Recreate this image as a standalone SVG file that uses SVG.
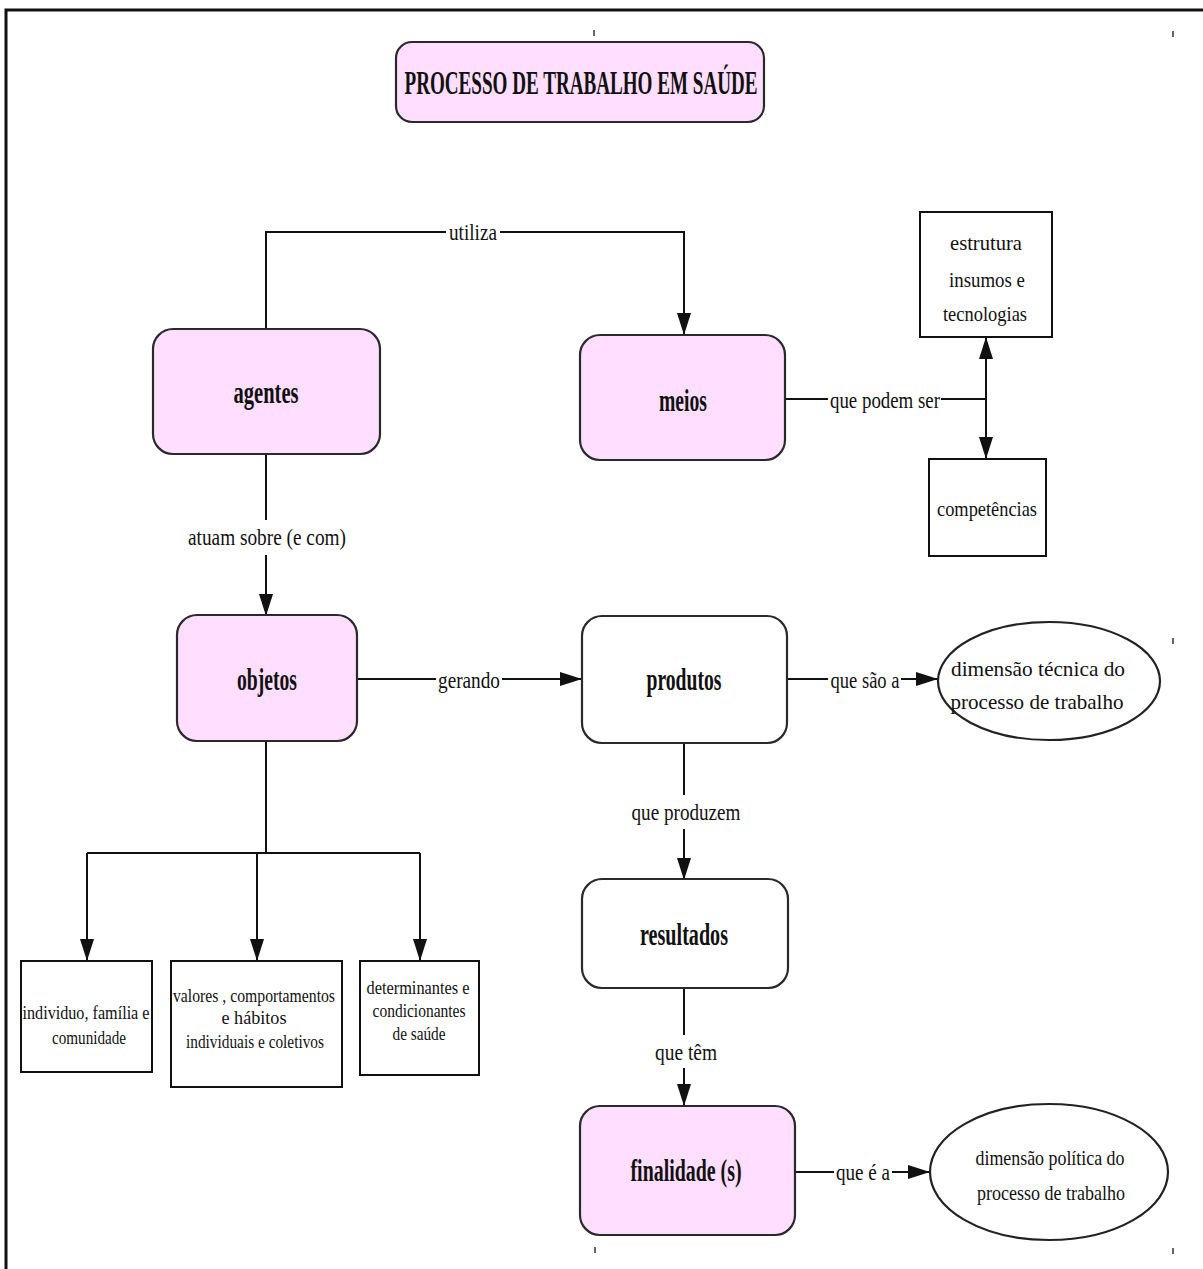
<svg xmlns="http://www.w3.org/2000/svg" width="1203" height="1269" viewBox="0 0 1203 1269">
<style>
.pink{fill:#ffdeff;stroke:#2a2a2a;stroke-width:2.2}
.white{fill:#ffffff;stroke:#2a2a2a;stroke-width:2.2}
.box{fill:#ffffff;stroke:#111;stroke-width:2}
.ell{fill:#ffffff;stroke:#222;stroke-width:2.2}
.line{fill:none;stroke:#111;stroke-width:2}
text{font-family:"Liberation Serif","Times New Roman",serif;fill:#111;text-anchor:middle;dominant-baseline:central}
.bold{font-weight:bold;font-size:31px}
.title{font-weight:bold;font-size:33px}
.lab{font-size:24px}
.el{font-size:22px}
.sm{font-size:19px}
.tick{stroke:#333;stroke-width:1.5}
</style>
<defs>
<marker id="arr" markerUnits="userSpaceOnUse" markerWidth="22" markerHeight="14" refX="22" refY="7" orient="auto">
<path d="M0,0 L22,7 L0,14 z" fill="#111"/>
</marker>
</defs>
<rect width="1203" height="1269" fill="#ffffff"/>
<path d="M6,1269 V10 H1203" fill="none" stroke="#111" stroke-width="3"/>
<g id="ticks">
<line class="tick" x1="594" y1="30" x2="594" y2="36"/>
<line class="tick" x1="1173" y1="31" x2="1173" y2="37"/>
<line class="tick" x1="1173" y1="638" x2="1173" y2="644"/>
<line class="tick" x1="595" y1="1247" x2="595" y2="1253"/>
<line class="tick" x1="1173" y1="1248" x2="1173" y2="1254"/>
</g>
<g id="connectors">
<path class="line" d="M266,329 V232 H446"/>
<path class="line" d="M500,232 H684 V335" marker-end="url(#arr)"/>
<path class="line" d="M785,399 H828"/>
<path class="line" d="M941,399 H986"/>
<path class="line" d="M986,399 V337" marker-end="url(#arr)"/>
<path class="line" d="M986,399 V459" marker-end="url(#arr)"/>
<path class="line" d="M266,454 V520"/>
<path class="line" d="M266,555 V616" marker-end="url(#arr)"/>
<path class="line" d="M357,679 H436"/>
<path class="line" d="M502,679 H582" marker-end="url(#arr)"/>
<path class="line" d="M787,679 H828"/>
<path class="line" d="M901,679 H938" marker-end="url(#arr)"/>
<path class="line" d="M684,743 V795"/>
<path class="line" d="M684,829 V880" marker-end="url(#arr)"/>
<path class="line" d="M684,988 V1035"/>
<path class="line" d="M684,1068 V1106" marker-end="url(#arr)"/>
<path class="line" d="M795,1172 H834"/>
<path class="line" d="M892,1172 H930" marker-end="url(#arr)"/>
<path class="line" d="M266,741 V853"/>
<path class="line" d="M87,853 H420"/>
<path class="line" d="M87,853 V961" marker-end="url(#arr)"/>
<path class="line" d="M257,853 V961" marker-end="url(#arr)"/>
<path class="line" d="M420,853 V961" marker-end="url(#arr)"/>
<text class="lab" x="473" y="232" textLength="48" lengthAdjust="spacingAndGlyphs">utiliza</text>
<text class="lab" x="885" y="400" textLength="110" lengthAdjust="spacingAndGlyphs">que podem ser</text>
<text class="lab" x="267" y="537" textLength="158" lengthAdjust="spacingAndGlyphs">atuam sobre (e com)</text>
<text class="lab" x="469" y="680" textLength="62" lengthAdjust="spacingAndGlyphs">gerando</text>
<text class="lab" x="865" y="680" textLength="69" lengthAdjust="spacingAndGlyphs">que são a</text>
<text class="lab" x="686" y="812" textLength="109" lengthAdjust="spacingAndGlyphs">que produzem</text>
<text class="lab" x="686" y="1052" textLength="62" lengthAdjust="spacingAndGlyphs">que têm</text>
<text class="lab" x="863" y="1172" textLength="54" lengthAdjust="spacingAndGlyphs">que é a</text>
</g>
<g id="title">
<rect class="pink" x="396" y="42" width="368" height="80" rx="16"/>
<text class="title" x="581" y="83" textLength="353" lengthAdjust="spacingAndGlyphs">PROCESSO  DE TRABALHO EM SAÚDE</text>
</g>
<g id="agentes">
<rect class="pink" x="153" y="329" width="227" height="125" rx="20"/>
<text class="bold" x="266" y="392" textLength="65" lengthAdjust="spacingAndGlyphs">agentes</text>
</g>
<g id="meios">
<rect class="pink" x="580" y="335" width="205" height="125" rx="20"/>
<text class="bold" x="683" y="400" textLength="48" lengthAdjust="spacingAndGlyphs">meios</text>
</g>
<g id="estrutura">
<rect class="box" x="920" y="212" width="132" height="125"/>
<text class="el" x="986" y="242" textLength="72" lengthAdjust="spacingAndGlyphs">estrutura</text>
<text class="el" x="987" y="279" textLength="76" lengthAdjust="spacingAndGlyphs">insumos e</text>
<text class="el" x="985" y="313" textLength="84" lengthAdjust="spacingAndGlyphs">tecnologias</text>
</g>
<g id="competencias">
<rect class="box" x="929" y="459" width="117" height="97"/>
<text class="el" x="987" y="508" textLength="100" lengthAdjust="spacingAndGlyphs">competências</text>
</g>
<g id="objetos">
<rect class="pink" x="177" y="615" width="180" height="126" rx="20"/>
<text class="bold" x="267" y="679" textLength="60" lengthAdjust="spacingAndGlyphs">objetos</text>
</g>
<g id="produtos">
<rect class="white" x="582" y="616" width="205" height="127" rx="20"/>
<text class="bold" x="684" y="679" textLength="75" lengthAdjust="spacingAndGlyphs">produtos</text>
</g>
<g id="dimensao-tecnica">
<ellipse class="ell" cx="1049" cy="681" rx="111" ry="59"/>
<text class="el" x="1038" y="668" textLength="174" lengthAdjust="spacingAndGlyphs">dimensão técnica do</text>
<text class="el" x="1037" y="701" textLength="173" lengthAdjust="spacingAndGlyphs">processo  de trabalho</text>
</g>
<g id="resultados">
<rect class="white" x="582" y="879" width="206" height="109" rx="20"/>
<text class="bold" x="684" y="934" textLength="88" lengthAdjust="spacingAndGlyphs">resultados</text>
</g>
<g id="finalidade">
<rect class="pink" x="580" y="1106" width="215" height="129" rx="20"/>
<text class="bold" x="686" y="1170" textLength="111" lengthAdjust="spacingAndGlyphs">finalidade (s)</text>
</g>
<g id="dimensao-politica">
<ellipse class="ell" cx="1049" cy="1172" rx="119" ry="68"/>
<text class="el" x="1050" y="1157" textLength="149" lengthAdjust="spacingAndGlyphs">dimensão política do</text>
<text class="el" x="1051" y="1192" textLength="148" lengthAdjust="spacingAndGlyphs">processo  de trabalho</text>
</g>
<g id="individuo">
<rect class="box" x="21" y="961" width="131" height="111"/>
<text class="sm" x="86" y="1012" textLength="127" lengthAdjust="spacingAndGlyphs">individuo, família e</text>
<text class="sm" x="89" y="1037" textLength="74" lengthAdjust="spacingAndGlyphs">comunidade</text>
</g>
<g id="valores">
<rect class="box" x="171" y="961" width="171" height="126"/>
<text class="sm" x="254" y="995" textLength="162" lengthAdjust="spacingAndGlyphs">valores , comportamentos</text>
<text class="sm" x="254" y="1017" textLength="65" lengthAdjust="spacingAndGlyphs">e hábitos</text>
<text class="sm" x="255" y="1041" textLength="138" lengthAdjust="spacingAndGlyphs">individuais e coletivos</text>
</g>
<g id="determinantes">
<rect class="box" x="360" y="961" width="119" height="114"/>
<text class="sm" x="418" y="987" textLength="103" lengthAdjust="spacingAndGlyphs">determinantes  e</text>
<text class="sm" x="419" y="1010" textLength="93" lengthAdjust="spacingAndGlyphs">condicionantes</text>
<text class="sm" x="419" y="1033" textLength="53" lengthAdjust="spacingAndGlyphs">de saúde</text>
</g>
</svg>
